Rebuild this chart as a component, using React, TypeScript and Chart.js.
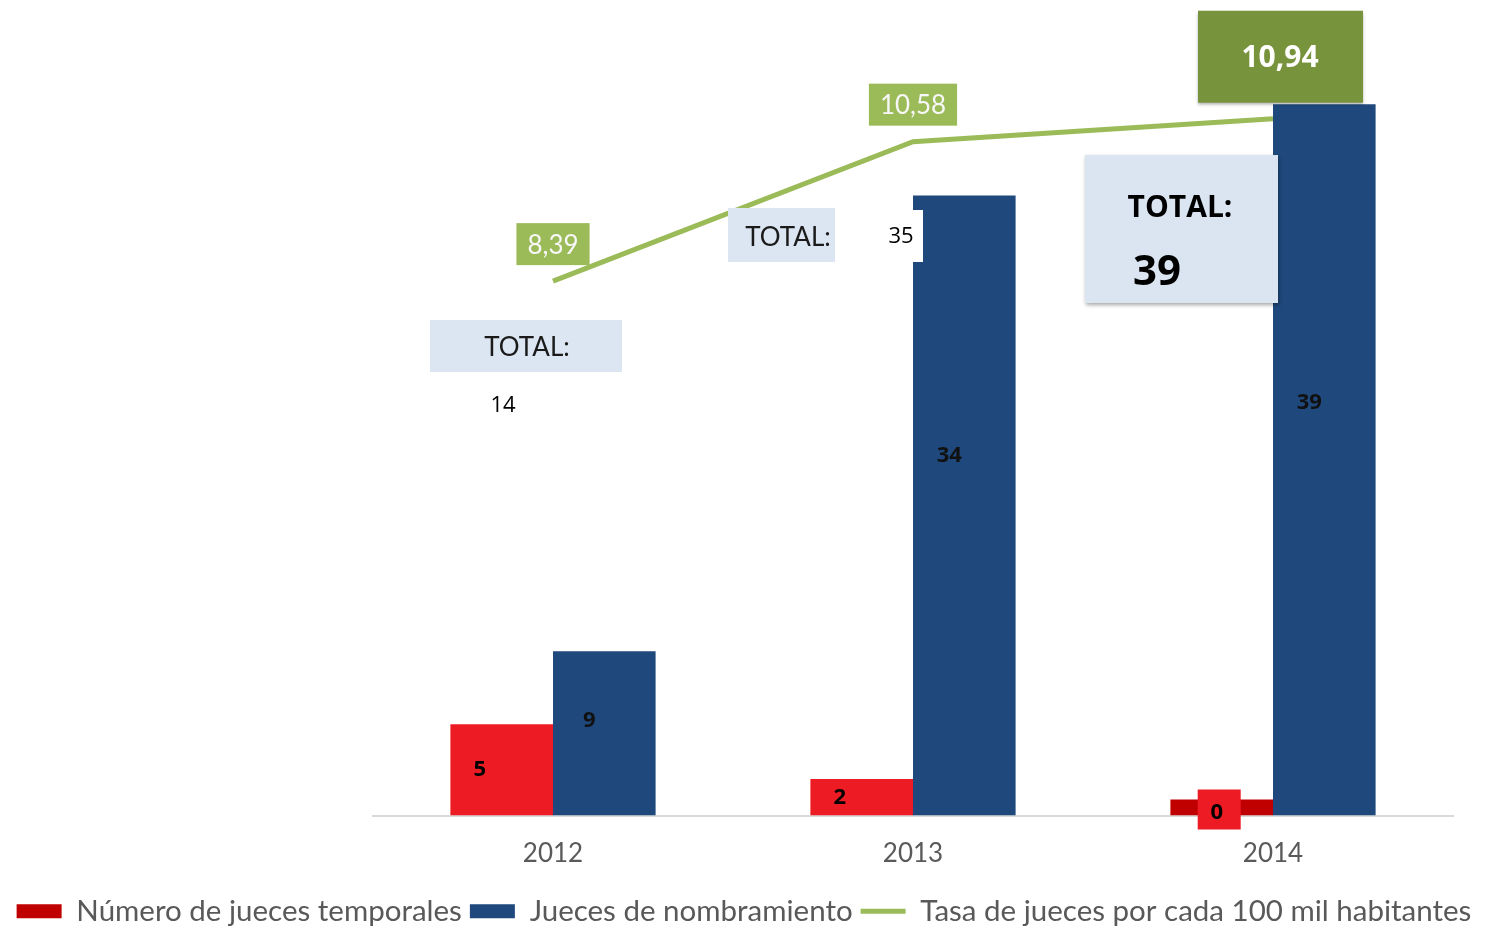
import React, { useEffect, useRef } from 'react';
import { Chart, registerables } from 'chart.js';

Chart.register(...registerables);

// ---- data ----
const years = ['2012', '2013', '2014'];
const temporales = [5, 2, 0];
const nombramiento = [9, 34, 39];
const tasa = [8.39, 10.58, 10.94];
const totales = [14, 35, 39];

const GOTHIC = 'Lato, "Open Sans", sans-serif';
const CALIBRI = '"Open Sans", "Liberation Sans", sans-serif';

const fmt = (v: number) => v.toLocaleString('es-ES', { minimumFractionDigits: 2, maximumFractionDigits: 2 });

const labelPlugin = {
  id: 'labelPlugin',
  afterDatasetsDraw(chart: any) {
    const { ctx, chartArea } = chart;
    const T = chartArea.top;
    const xScale = chart.scales.x;
    const red = chart.getDatasetMeta(0).data;
    const blue = chart.getDatasetMeta(1).data;
    const line = chart.getDatasetMeta(2).data;
    ctx.save();
    ctx.textAlign = 'center';
    ctx.textBaseline = 'middle';

    // TOTAL boxes
    years.forEach((_, i) => {
      const cx = xScale.getPixelForValue(i);
      const total = String(totales[i]);
      if (i === 0) {
        ctx.fillStyle = '#dce6f2';
        ctx.fillRect(cx - 123, T + 307, 192, 52);
        ctx.fillStyle = '#1a1a1a';
        ctx.font = `26px ${GOTHIC}`;
        ctx.fillText('TOTAL:', cx - 26, T + 335);
        ctx.font = `22px ${CALIBRI}`;
        ctx.fillStyle = '#000';
        ctx.fillText(total, cx - 50, T + 393);
      } else if (i === 1) {
        ctx.fillStyle = '#dce6f2';
        ctx.fillRect(cx - 185, T + 195, 107, 54);
        ctx.fillStyle = '#1a1a1a';
        ctx.font = `26px ${GOTHIC}`;
        ctx.fillText('TOTAL:', cx - 125, T + 225);
        ctx.fillStyle = '#ffffff';
        ctx.fillRect(cx - 44, T + 197, 54, 52);
        ctx.fillStyle = '#000';
        ctx.font = `22px ${CALIBRI}`;
        ctx.fillText(total, cx - 12, T + 224);
      } else {
        ctx.save();
        ctx.shadowColor = 'rgba(0,0,0,0.35)';
        ctx.shadowBlur = 4;
        ctx.shadowOffsetX = 1;
        ctx.shadowOffsetY = 2;
        ctx.fillStyle = '#dbe5f1';
        ctx.fillRect(cx - 188, T + 142, 193, 148);
        ctx.restore();
        ctx.fillStyle = '#000';
        ctx.font = `bold 30px ${CALIBRI}`;
        ctx.fillText('TOTAL:', cx - 93, T + 195);
        ctx.font = `bold 42px ${CALIBRI}`;
        ctx.fillText(total, cx - 116, T + 260);
      }
    });

    // red bar labels
    red.forEach((el: any, i: number) => {
      const p = el.getProps(['x', 'y', 'base'], true);
      const v = temporales[i];
      ctx.font = `bold 22px ${CALIBRI}`;
      if (v === 0) {
        const bx = p.x - 3;
        const by = p.base - 6;
        ctx.fillStyle = '#ed1c24';
        ctx.fillRect(bx - 21, by - 20, 43, 40);
        ctx.fillStyle = '#000';
        ctx.fillText(String(v), bx - 2, by + 3);
      } else {
        ctx.fillStyle = '#000';
        ctx.fillText(String(v), p.x - 22, (p.y + p.base) / 2);
      }
    });

    // blue bar labels
    blue.forEach((el: any, i: number) => {
      const p = el.getProps(['x', 'y', 'base'], true);
      ctx.font = `bold 22px ${CALIBRI}`;
      ctx.fillStyle = '#111';
      ctx.fillText(String(nombramiento[i]), p.x - 15, p.y + (p.base - p.y) * 0.42);
    });

    // line labels
    line.forEach((el: any, i: number) => {
      const p = el.getProps(['x', 'y'], true);
      const txt = fmt(tasa[i]);
      if (i === tasa.length - 1) {
        const cx = p.x + 7;
        const cy = p.y - 62;
        ctx.save();
        ctx.shadowColor = 'rgba(0,0,0,0.3)';
        ctx.shadowBlur = 3;
        ctx.shadowOffsetY = 2;
        ctx.fillStyle = '#77933c';
        ctx.fillRect(cx - 82, cy - 46, 165, 92);
        ctx.restore();
        ctx.fillStyle = '#ffffff';
        ctx.font = `bold 30px ${CALIBRI}`;
        ctx.fillText(txt, cx, cy + 2);
      } else {
        ctx.font = `26px ${GOTHIC}`;
        const w = ctx.measureText(txt).width + 22;
        const cx = p.x;
        const cy = p.y - 37;
        ctx.fillStyle = '#9bbb59';
        ctx.fillRect(cx - w / 2, cy - 21, w, 42);
        ctx.fillStyle = '#f7f7f7';
        ctx.fillText(txt, cx, cy + 1);
      }
    });

    ctx.restore();
  },
};

export default function App() {
  const ref = useRef<HTMLCanvasElement>(null);

  useEffect(() => {
    const chart = new Chart(ref.current as HTMLCanvasElement, {
      type: 'bar',
      data: {
        labels: years,
        datasets: [
          {
            type: 'bar',
            label: 'Número de jueces temporales',
            data: temporales,
            backgroundColor: ['#ed1c24', '#ed1c24', '#c00000'],
            yAxisID: 'y',
            order: 1,
            minBarLength: 16,
            categoryPercentage: 0.57,
            barPercentage: 1,
          },
          {
            type: 'bar',
            label: 'Jueces de nombramiento',
            data: nombramiento,
            backgroundColor: '#1f497d',
            yAxisID: 'y',
            order: 1,
            categoryPercentage: 0.57,
            barPercentage: 1,
          },
          {
            type: 'line',
            label: 'Tasa de jueces por cada 100 mil habitantes',
            data: tasa,
            borderColor: '#9bbb59',
            backgroundColor: '#9bbb59',
            borderWidth: 5,
            pointRadius: 0,
            tension: 0,
            yAxisID: 'y1',
            order: 2,
          },
        ],
      } as any,
      options: {
        responsive: false,
        animation: false,
        devicePixelRatio: 1,
        layout: { padding: { top: 13, bottom: -6, left: 0, right: 0 } },
        plugins: {
          tooltip: { enabled: false },
          legend: {
            position: 'bottom',
            labels: {
              font: { family: GOTHIC, size: 29.5 },
              color: '#595959',
              padding: 8,
              usePointStyle: true,
              pointStyleWidth: 45,
              boxHeight: 14,
              generateLabels(c: any) {
                const items = Chart.defaults.plugins.legend.labels.generateLabels(c);
                return items.map((it: any, idx: number) => {
                  if (idx === 0) return { ...it, fillStyle: '#c00000', strokeStyle: '#c00000', lineWidth: 0, pointStyle: 'rect' };
                  if (idx === 1) return { ...it, fillStyle: '#1f497d', strokeStyle: '#1f497d', lineWidth: 0, pointStyle: 'rect' };
                  return { ...it, fillStyle: '#9bbb59', strokeStyle: '#9bbb59', lineWidth: 5, pointStyle: 'line' };
                });
              },
            },
          },
        },
        scales: {
          x: {
            grid: { display: false, drawTicks: false },
            border: { display: true, color: '#d9d9d9', width: 2 },
            ticks: { font: { family: GOTHIC, size: 26 }, color: '#595959', padding: 23 },
            afterFit(scale: any) {
              scale.height = 73;
            },
          },
          y: {
            position: 'left',
            min: 0,
            max: 44,
            display: true,
            grid: { display: false },
            border: { display: false },
            ticks: { display: false },
            afterFit(scale: any) {
              scale.width = 373;
            },
          },
          y1: {
            position: 'right',
            min: 0,
            max: 12.6,
            display: true,
            grid: { display: false },
            border: { display: false },
            ticks: { display: false },
            afterFit(scale: any) {
              scale.width = 35;
            },
          },
        },
      } as any,
      plugins: [labelPlugin],
    });
    return () => chart.destroy();
  }, []);

  return (
    <div style={{ position: 'absolute', left: 0, top: 0, width: 1488, height: 930, background: '#ffffff' }}>
      <canvas ref={ref} width={1488} height={930} style={{ display: 'block' }} />
    </div>
  );
}
